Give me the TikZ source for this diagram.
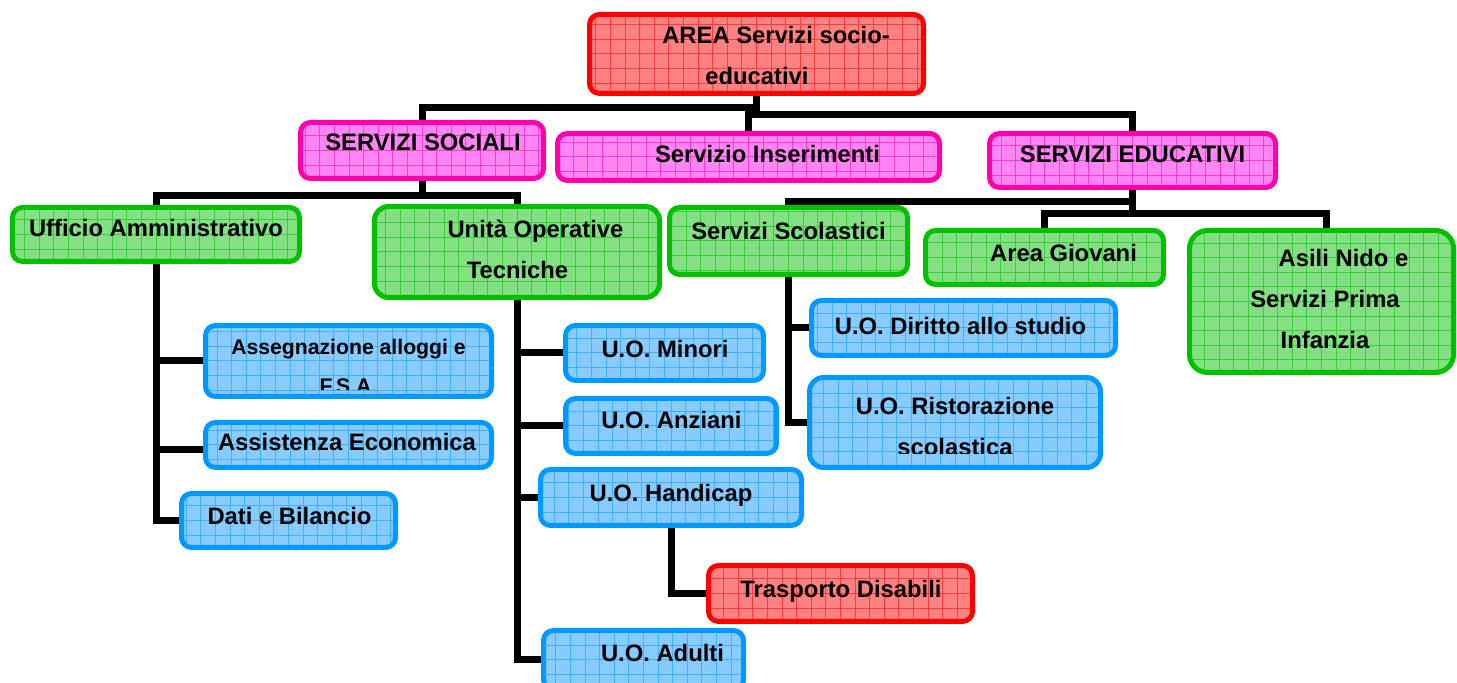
\documentclass[tikz,border=0pt]{standalone}
\usepackage{fontspec}
\setmainfont{Liberation Sans}
\usetikzlibrary{backgrounds}
\definecolor{redB}{HTML}{FF0000}\definecolor{redF}{HTML}{FF8282}
\definecolor{magB}{HTML}{FF00AA}\definecolor{magF}{HTML}{FF85F5}
\definecolor{grnB}{HTML}{00C000}\definecolor{grnF}{HTML}{85E085}
\definecolor{bluB}{HTML}{0099FF}\definecolor{bluF}{HTML}{88CCFF}
\newcommand\ml[1]{\begin{tabular}[t]{@{}c@{}}#1\end{tabular}}
\newcommand\obox[7][5pt]{\node[#3, rounded corners=#1, minimum width={(#6-#4-5)*0.5pt}, minimum height={(#7-#5-5)*0.5pt}] (#2) at ({(#4+#6)/2},{(#5+#7)/2}) {};}
\tikzset{
  boxbase/.style 2 args={rectangle, line width=2.5pt, inner sep=0pt, draw=#1, fill=#2,
    path picture={\draw[line width=0.5pt, draw=#1, opacity=0.55, step=7.3pt]
      (path picture bounding box.south west) grid (path picture bounding box.north east);}},
  redbox/.style={boxbase={redB}{redF}},
  magbox/.style={boxbase={magB}{magF}},
  grnbox/.style={boxbase={grnB}{grnF}},
  blubox/.style={boxbase={bluB}{bluF}},
  conn/.style={line width=3.5pt, draw=black, line join=miter},
  txt/.style={anchor=base, inner sep=0pt, font=\fontsize{11.9pt}{20.5pt}\selectfont\bfseries},
}
\begin{document}
\begin{tikzpicture}[x=0.5pt, y=-0.5pt]
\useasboundingbox (0,0) rectangle (1457,683);
% boxes
\obox{A}{redbox}{587}{12}{926}{96}
\obox{SS}{magbox}{298}{120}{546}{181}
\obox{SI}{magbox}{555}{131}{942}{183}
\obox{SE}{magbox}{987}{131}{1278}{190}
\obox{UA}{grnbox}{10}{205}{302}{264}
\obox[7pt]{UOT}{grnbox}{372}{204}{662}{300}
\obox{SSc}{grnbox}{667}{205}{910}{277}
\obox{AG}{grnbox}{923}{228}{1166}{287}
\obox[9pt]{AN}{grnbox}{1187}{228}{1456}{375}
\obox{Ass}{blubox}{203}{323}{494}{399}
\obox{AE}{blubox}{203}{420}{494}{470}
\obox{DB}{blubox}{179}{491}{398}{550}
\obox{Min}{blubox}{563}{323}{766}{383}
\obox{Anz}{blubox}{563}{396}{779}{456}
\obox{Hand}{blubox}{538}{467}{804}{528}
\obox{TD}{redbox}{706}{563}{975}{624}
\obox{Adu}{blubox}{541}{628}{746}{692}
\obox{Dir}{blubox}{809}{298}{1118}{358}
\obox[7pt]{Rist}{blubox}{807}{375}{1103}{470}
% connectors
\coordinate (ANt) at ([xshift=2.25pt]AN.north);
\coordinate (AEw) at ([yshift=-2.5pt]AE.west);
\begin{scope}[on background layer]
\fill[white] (0,0) rectangle (1457,683);
\draw[conn] (A.south) -- (A.south |- 0,114.5);
\draw[conn] (A.south |- 0,108) -| (SS.north);
\draw[conn] (SI.north) -- (SI.north |- 0,111);
\draw[conn] (SI.north |- 0,114.5) -| (SE.north);
\draw[conn] (SS.south) -- (SS.south |- 0,196);
\draw[conn] (UA.north) |- (UOT.north |- 0,196) -- (UOT.north);
\draw[conn] (SE.south) -- (SE.south |- 0,214);
\draw[conn] (SSc.north) |- (SE.south |- 0,202);
\draw[conn] (AG.north) |- (ANt |- 0,214) -- (ANt);
\draw[conn] (UA.south) |- (DB.west);
\draw[conn] (UA.south |- Ass.west) -- (Ass.west);
\draw[conn] (UA.south |- AEw) -- (AEw);
\draw[conn] (UOT.south) |- (Adu.west);
\draw[conn] (UOT.south |- Min.west) -- (Min.west);
\draw[conn] (UOT.south |- Anz.west) -- (Anz.west);
\draw[conn] (UOT.south |- Hand.west) -- (Hand.west);
\draw[conn] (SSc.south) |- (Rist.west);
\draw[conn] (SSc.south |- Dir.west) -- (Dir.west);
\draw[conn] (Hand.south) |- (TD.west);
\end{scope}
% texts
\node[txt] (tA) at (757,44) {\ml{\hspace*{19pt}AREA Servizi socio-\\educativi}};
\node[txt] (tSS) at (423,151) {SERVIZI SOCIALI};
\node[txt] (tSI) at (767.5,163) {Servizio Inserimenti};
\node[txt] (tSE) at (1132.5,163) {SERVIZI EDUCATIVI};
\node[txt] (tUA) at (156,237) {Ufficio Amministrativo};
\node[txt] (tUOT) at (517.5,238) {\ml{\hspace*{18pt}Unità Operative\\Tecniche}};
\node[txt] (tSSc) at (788.5,240) {Servizi Scolastici};
\node[txt] (tAG) at (1063.5,262) {Area Giovani};
\node[txt] (tAN) at (1325,267) {\ml{\hspace*{18.5pt}Asili Nido e\\Servizi Prima\\Infanzia}};
\begin{scope}
\clip (Ass.north west) rectangle (Ass.east |- 0,390);
\node[txt, font=\fontsize{10.6pt}{19.5pt}\selectfont\bfseries] (tAss) at (348.5,355) {\ml{Assegnazione alloggi e\\F.S.A.}};
\end{scope}
\node[txt] (tAE) at (347,451) {Assistenza Economica};
\node[txt] (tDB) at (289.5,525) {Dati e Bilancio};
\node[txt] (tMin) at (665,358) {U.O. Minori};
\node[txt] (tAnz) at (671.5,429) {U.O. Anziani};
\node[txt] (tHand) at (671,501.5) {U.O. Handicap};
\node[txt] (tTD) at (841,597.5) {Trasporto Disabili};
\node[txt] (tAdu) at (662.5,662) {U.O. Adulti};
\node[txt] (tDir) at (960.5,335) {U.O. Diritto allo studio};
\begin{scope}
\clip (Rist.north west) rectangle (Rist.east |- 0,454);
\node[txt] (tRist) at (955,415) {\ml{U.O. Ristorazione\\scolastica}};
\end{scope}
\end{tikzpicture}
\end{document}
